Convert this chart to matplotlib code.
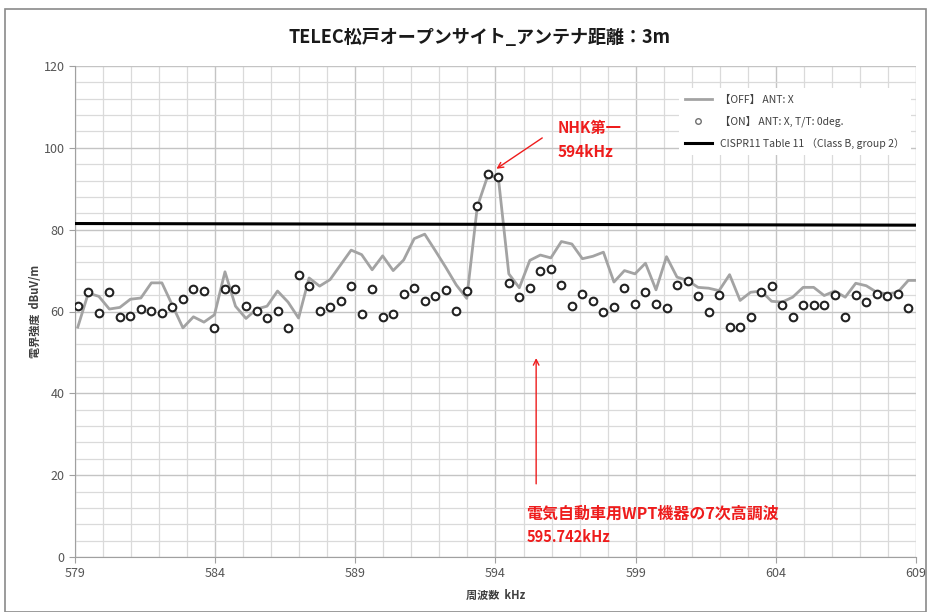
import numpy as np
import matplotlib
matplotlib.use("Agg")
import matplotlib.pyplot as plt
from matplotlib.lines import Line2D
from matplotlib.patches import Rectangle
from matplotlib.ticker import MultipleLocator, FixedLocator

plt.rcParams['font.family'] = ['Noto Sans CJK JP', 'DejaVu Sans']

# 周波数グリッド (kHz)
F_START = 579.1
F_STEP = 0.375

off_x = [56.2, 64.5, 63.7, 60.6, 61.0, 63.0, 63.3, 67.0, 67.0, 61.5,
         56.0, 58.7, 57.4, 59.2, 69.7, 61.3, 58.3, 60.6, 61.3, 65.0,
         62.3, 58.4, 68.2, 66.2, 67.8, 71.4, 75.0, 73.9, 70.2, 73.6,
         70.0, 72.6, 77.8, 78.9, 74.9, 70.8, 66.5, 63.2, 85.6, 93.2,
         92.8, 69.2, 65.8, 72.5, 73.8, 73.1, 77.1, 76.5, 72.9, 73.5,
         74.5, 67.2, 70.0, 69.2, 71.8, 65.3, 73.4, 68.4, 67.6, 65.9,
         65.7, 65.1, 69.0, 62.7, 64.7, 65.0, 62.5, 62.3, 63.5, 65.9,
         65.9, 63.9, 65.0, 63.5, 66.9, 66.3, 64.7, 64.3, 64.7, 67.6,
         67.6]

on_x = [61.3, 64.7, 59.7, 64.7, 58.6, 59.0, 60.6, 60.2, 59.6, 61.1,
        63.0, 65.6, 65.0, 55.9, 65.6, 65.6, 61.4, 60.1, 58.4, 60.1,
        55.9, 68.8, 66.3, 60.1, 61.2, 62.5, 66.3, 59.5, 65.4, 58.7,
        59.4, 64.2, 65.8, 62.5, 63.7, 65.3, 60.1, 65.1, 85.8, 93.5,
        92.8, 66.9, 63.5, 65.8, 69.8, 70.5, 66.4, 61.3, 64.2, 62.5,
        59.9, 61.1, 65.8, 61.9, 64.7, 61.9, 60.9, 66.5, 67.4, 63.8,
        60.0, 64.1, 56.3, 56.3, 58.6, 64.7, 66.2, 61.7, 58.6, 61.7,
        61.7, 61.7, 64.1, 58.6, 64.1, 62.3, 64.3, 63.7, 64.3, 60.8]

limit_f = [579, 609]
limit_v = [81.5, 81.1]

x_ticks = [579, 584, 589, 594, 599, 604, 609]

freq_off = F_START + F_STEP * np.arange(len(off_x))
freq_on = F_START + F_STEP * np.arange(len(on_x))

W, H = 927, 612
fig = plt.figure(figsize=(W / 100, H / 100), dpi=100)
fig.patch.set_facecolor("white")
fig.patches.append(Rectangle((5 / W, 0), 1 - 6 / W, 1 - 9 / H, transform=fig.transFigure,
                             fill=False, edgecolor="#8a8a8a", lw=1.2))

ax = fig.add_axes([75 / W, 1 - 557 / H, 841 / W, 491 / H])
ax.set_xlim(579, 609)
ax.set_ylim(0, 120)
ax.xaxis.set_major_locator(FixedLocator(x_ticks))
ax.xaxis.set_minor_locator(MultipleLocator(1))
ax.yaxis.set_major_locator(MultipleLocator(20))
ax.yaxis.set_minor_locator(MultipleLocator(4))
ax.grid(which="major", color="#c4c4c4", lw=1.0)
ax.grid(which="minor", color="#dadada", lw=0.9)
ax.set_axisbelow(True)
for s in ["top", "right"]:
    ax.spines[s].set_visible(False)
for s in ["left", "bottom"]:
    ax.spines[s].set_color("#a0a0a0")
ax.tick_params(which="major", length=4, color="#a0a0a0", labelsize=9, labelcolor="#555555")
ax.tick_params(which="minor", length=0)

ax.plot(freq_off, off_x, color="#a3a3a3", lw=2.0, zorder=3)
ax.plot(freq_on, on_x, ls="none", marker="o", ms=5.5, mfc="white", mec="#222222", mew=1.5, zorder=4)
ax.plot(limit_f, limit_v, color="black", lw=2.2, zorder=3)

ax.set_xlabel("周波数  kHz", fontsize=8, fontweight="bold", color="#404040", labelpad=6)
ax.set_ylabel("電界強度  dBuV/m", fontsize=8, fontweight="bold", color="#404040", labelpad=1)
fig.text(480 / W, 1 - 37 / H, "TELEC松戸オープンサイト_アンテナ距離：3m", ha="center", va="center",
         fontsize=13, fontweight="bold", color="#1a1a1a")

handles = [Line2D([], [], color="#a3a3a3", lw=2.0),
           Line2D([], [], ls="none", marker="o", ms=4, mfc="white", mec="#707070", mew=1.0),
           Line2D([], [], color="black", lw=2.2)]
labels = ["【OFF】 ANT: X", "【ON】 ANT: X, T/T: 0deg.", "CISPR11 Table 11 （Class B, group 2）"]
leg = ax.legend(handles, labels, loc="upper right", bbox_to_anchor=(1.0, 0.965), fontsize=7.5,
                frameon=True, facecolor="white", edgecolor="none", framealpha=1.0,
                handlelength=2.6, labelspacing=1.05, borderpad=0.6)
for t in leg.get_texts():
    t.set_color("#404040")

red = "#ee1c1c"
ax.annotate("", xy=(593.95, 94.5), xytext=(595.75, 102.8),
            arrowprops=dict(arrowstyle="->", color=red, lw=1.0), zorder=6)
ax.text(596.2, 104.8, "NHK第一", color=red, fontsize=11, fontweight="bold", va="center")
ax.text(596.2, 98.9, "594kHz", color=red, fontsize=11, fontweight="bold", va="center")
ax.annotate("", xy=(595.45, 49.3), xytext=(595.45, 17.2),
            arrowprops=dict(arrowstyle="->", color=red, lw=1.0), zorder=6)
ax.text(595.1, 10.6, "電気自動車用WPT機器の7次高調波", color=red, fontsize=11.5, fontweight="bold", va="center")
ax.text(595.1, 5.0, "595.742kHz", color=red, fontsize=10.5, fontweight="bold", va="center")

fig.savefig("out.png", dpi=100, facecolor="white")
